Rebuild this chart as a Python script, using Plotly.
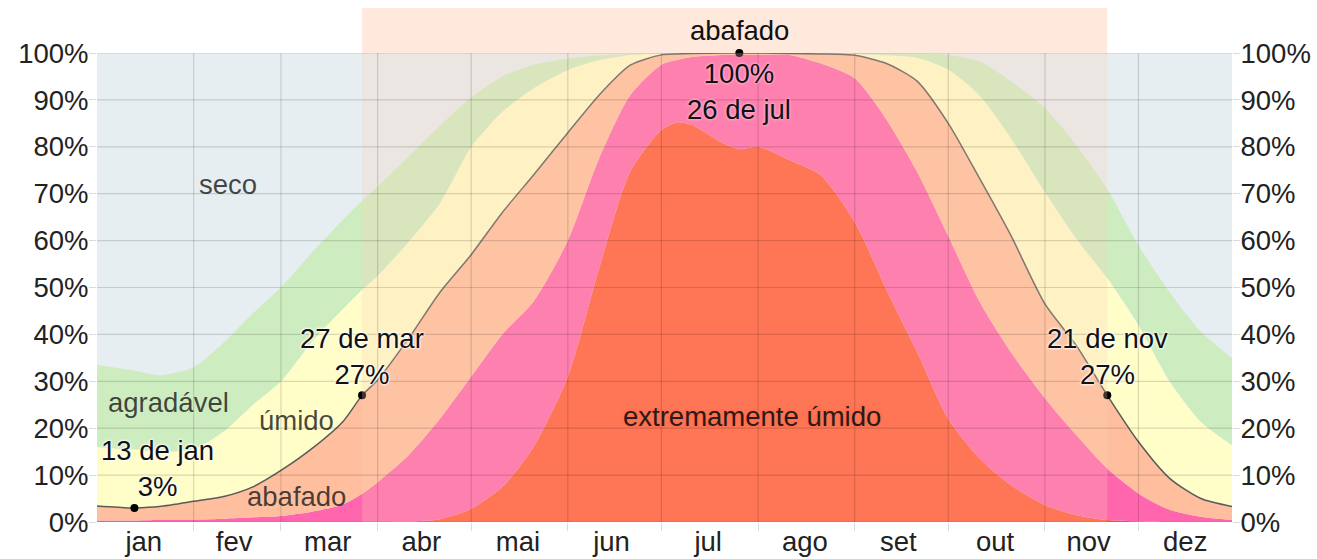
import plotly.graph_objects as go

# ---------------- data ----------------
dates = ["2023-01-01", "2023-01-11", "2023-01-13", "2023-01-21", "2023-02-01", "2023-02-11",
         "2023-02-20", "2023-03-01", "2023-03-11", "2023-03-21", "2023-03-27", "2023-04-01",
         "2023-04-11", "2023-04-21", "2023-05-01", "2023-05-11", "2023-05-21", "2023-06-01",
         "2023-06-11", "2023-06-21", "2023-07-01", "2023-07-06", "2023-07-11", "2023-07-21",
         "2023-07-26", "2023-08-01", "2023-08-11", "2023-08-21", "2023-09-01", "2023-09-11",
         "2023-09-21", "2023-10-01", "2023-10-11", "2023-10-21", "2023-11-01", "2023-11-11",
         "2023-11-21", "2023-12-01", "2023-12-11", "2023-12-21", "2023-12-31"]

# cumulative probability (%) of each comfort level "or worse"
extremamente_umido = [0, 0, 0, 0, 0, 0, 0, 0, 0, 0, 0, 0, 0.1, 0.6, 2.8, 7.5, 16, 31, 54, 74.7,
                      83.6, 85.2, 84.6, 80.7, 79.5, 80, 77.2, 74, 64, 49.8, 36.3, 22, 13.6, 7.9,
                      3.6, 1.5, 0.4, 0.1, 0, 0, 0]
opressivo = [0.3, 0.3, 0.3, 0.4, 0.5, 0.7, 1.0, 1.3, 2.2, 3.8, 6, 8.5, 14.3, 22, 31, 40, 47, 60,
             77.5, 91, 97.5, 98.5, 99.2, 99.6, 99.6, 99.6, 99.6, 97.8, 94.6, 86, 74.7, 61, 47,
             36.3, 26.4, 18.6, 11.4, 6.1, 2.6, 1.1, 0.4]
abafado = [3.4, 3.0, 3.0, 3.3, 4.4, 5.5, 7.5, 11, 15.7, 21.5, 27, 30.3, 39.2, 49, 57, 66, 74, 83,
           91, 97.4, 99.6, 99.8, 99.9, 100, 100, 100, 99.9, 99.8, 99.5, 97.8, 94, 85, 73.3,
           61.2, 46.5, 37.7, 27, 17.1, 9.3, 5, 3.3]
umido = [16, 15.5, 15.5, 15, 15.5, 19.5, 25, 30, 38.5, 45.5, 49.5, 52.5, 59.8, 68, 80, 87.5,
         92.5, 96.4, 98.5, 99.6, 99.9, 100, 100, 100, 100, 100, 100, 100, 99.8, 99.5, 99,
         96.5, 91, 82, 70.4, 60.5, 52, 42, 30, 21.4, 16.4]
agradavel = [33.5, 32.5, 32.3, 31.3, 33, 38.5, 44.5, 50, 57.5, 64.5, 68.5, 71.5, 78, 84.5, 90.5,
             95, 97.5, 98.8, 99.5, 99.8, 100, 100, 100, 100, 100, 100, 100, 100, 100, 100,
             99.9, 99.6, 98.2, 94, 88.2, 80.4, 71, 59, 49, 40.6, 34.9]

month_starts = ["2023-02-01", "2023-03-01", "2023-04-01", "2023-05-01", "2023-06-01",
                "2023-07-01", "2023-08-01", "2023-09-01", "2023-10-01", "2023-11-01",
                "2023-12-01"]
month_mids = ["2023-01-16", "2023-02-14", "2023-03-16", "2023-04-15", "2023-05-16",
              "2023-06-15", "2023-07-16", "2023-08-16", "2023-09-15", "2023-10-16",
              "2023-11-15", "2023-12-16"]
month_labels = ["jan", "fev", "mar", "abr", "mai", "jun", "jul", "ago", "set", "out", "nov", "dez"]
y_ticks = [0, 10, 20, 30, 40, 50, 60, 70, 80, 90, 100]
y_labels = [f"{t}%" for t in y_ticks]

muggy_start, muggy_end = "2023-03-27", "2023-11-21"
highlight_dates = ["2023-01-13", "2023-03-27", "2023-07-26", "2023-11-21"]
highlight_names = ["13 de jan", "27 de mar", "26 de jul", "21 de nov"]

# ---------------- style ----------------
FONT = "Arial, 'Liberation Sans', sans-serif"
FS = 27.5
C_SECO = "#E6EEF1"
C_AGRAD = "#CDEDC0"
C_UMIDO = "#FFFDC8"
C_ABAF = "#FFBF9E"
C_OPRES = "#FF66AE"
C_EXTR = "#FF5837"
GRID = "rgba(0,0,0,0.14)"
SPLINE = dict(shape="spline", smoothing=0.7)

fig = go.Figure()
layers = [(extremamente_umido, C_EXTR, "tozeroy"), (opressivo, C_OPRES, "tonexty"),
          (abafado, C_ABAF, "tonexty"), (umido, C_UMIDO, "tonexty"),
          (agradavel, C_AGRAD, "tonexty")]
for vals, col, fill in layers:
    fig.add_trace(go.Scatter(x=dates, y=vals, mode="lines",
                             line=dict(width=0, color=col, **SPLINE),
                             fill=fill, fillcolor=col, hoverinfo="skip", showlegend=False))

# line: abafado or worse
fig.add_trace(go.Scatter(x=dates, y=abafado, mode="lines", yaxis="y2",
                         line=dict(color="#5a5a5a", width=1.5, **SPLINE), showlegend=False))
hl_vals = [abafado[dates.index(d)] for d in highlight_dates]
fig.add_trace(go.Scatter(x=highlight_dates, y=hl_vals, mode="markers", yaxis="y2",
                         marker=dict(color="black", size=8), cliponaxis=False,
                         showlegend=False))

shapes = []
# muggy period header + tint over plot
shapes.append(dict(type="rect", xref="x", yref="paper", x0=muggy_start, x1=muggy_end,
                   y0=1, y1=1.096, fillcolor="#FFE9DD", line=dict(width=0), layer="below"))
shapes.append(dict(type="rect", xref="x", yref="paper", x0=muggy_start, x1=muggy_end,
                   y0=0, y1=1, fillcolor="rgba(250,206,181,0.25)", line=dict(width=0),
                   layer="above"))
# grid lines drawn above the areas
for m in month_starts:
    shapes.append(dict(type="line", xref="x", yref="paper", x0=m, x1=m, y0=0, y1=1,
                       line=dict(color=GRID, width=1.2), layer="above"))
for t in y_ticks:
    shapes.append(dict(type="line", xref="paper", yref="y", x0=0, x1=1, y0=t, y1=t,
                       line=dict(color=GRID, width=1.2), layer="above"))

white_halo = "0 0 3px #fff, 0 0 3px #fff, 0 0 2px #fff"
ann = []
label_font = dict(family=FONT, size=FS, color="rgba(30,30,30,0.82)")
C = dict(showarrow=False, xanchor="center", yanchor="middle")
ann.append(dict(x="2023-02-12", y=71.9, text="seco", font=label_font, **C))
ann.append(dict(x="2023-01-24", y=25.4, text="agradável", font=label_font, **C))
ann.append(dict(x="2023-03-06", y=21.7, text="úmido", font=label_font, **C))
ann.append(dict(x="2023-03-06", y=5.5, text="abafado", font=label_font, **C))
ann.append(dict(x="2023-07-30", y=22.6, text="extremamente úmido",
                font=dict(family=FONT, size=FS, color="#2a1a18",
                          shadow="0 0 3px #ff6a48, 0 0 3px #ff6a48"), **C))
ann.append(dict(x="2023-07-26", y=1.047, yref="paper", text="abafado",
                font=dict(family=FONT, size=FS, color="#111"), **C))

hl_offsets = [(23, 39), (0, 38.5), (0, -38), (0, 38.5)]
hl_halos = [white_halo, white_halo, "0 0 3px #ffb0cf, 0 0 3px #ffb0cf, 0 0 2px #ffb0cf",
            white_halo]
for d, name, v, (dx, dy), halo in zip(highlight_dates, highlight_names, hl_vals,
                                      hl_offsets, hl_halos):
    pct = f"{round(v)}%"
    txt = f"{pct}<br>{name}" if dy < 0 else f"{name}<br>{pct}"
    ann.append(dict(x=d, y=v, yref="y", text=txt, xshift=dx, yshift=dy,
                    font=dict(family=FONT, size=FS, color="#111", shadow=halo), **C))

axis_y = dict(range=[0, 100], tickmode="array", tickvals=y_ticks, ticktext=y_labels,
              showgrid=False, zeroline=False, ticks="outside", ticklen=7, tickcolor=GRID,
              tickwidth=1.2, tickfont=dict(size=FS, color="#222"), automargin=False,
              ticklabelstandoff=-5)

fig.update_layout(
    width=1317, height=559,
    margin=dict(l=97, r=85, t=53, b=37),
    paper_bgcolor="white", plot_bgcolor=C_SECO,
    font=dict(family=FONT, size=FS, color="#222"),
    shapes=shapes, annotations=ann, showlegend=False,
    xaxis=dict(type="date", range=["2023-01-01", "2023-12-31"], showgrid=False,
               zeroline=False, tickmode="array", tickvals=month_mids, ticktext=month_labels,
               ticks="", tickfont=dict(size=FS, color="#222"), automargin=False,
               minor=dict(tickmode="array", tickvals=month_starts, ticks="outside",
                          ticklen=8, tickcolor=GRID, tickwidth=1.2, showgrid=False)),
    yaxis=axis_y,
    yaxis2=dict(axis_y, overlaying="y", side="right"),
)

fig.write_html("out.html", config={"displayModeBar": False},
               post_script="document.body.style.margin='0';")
